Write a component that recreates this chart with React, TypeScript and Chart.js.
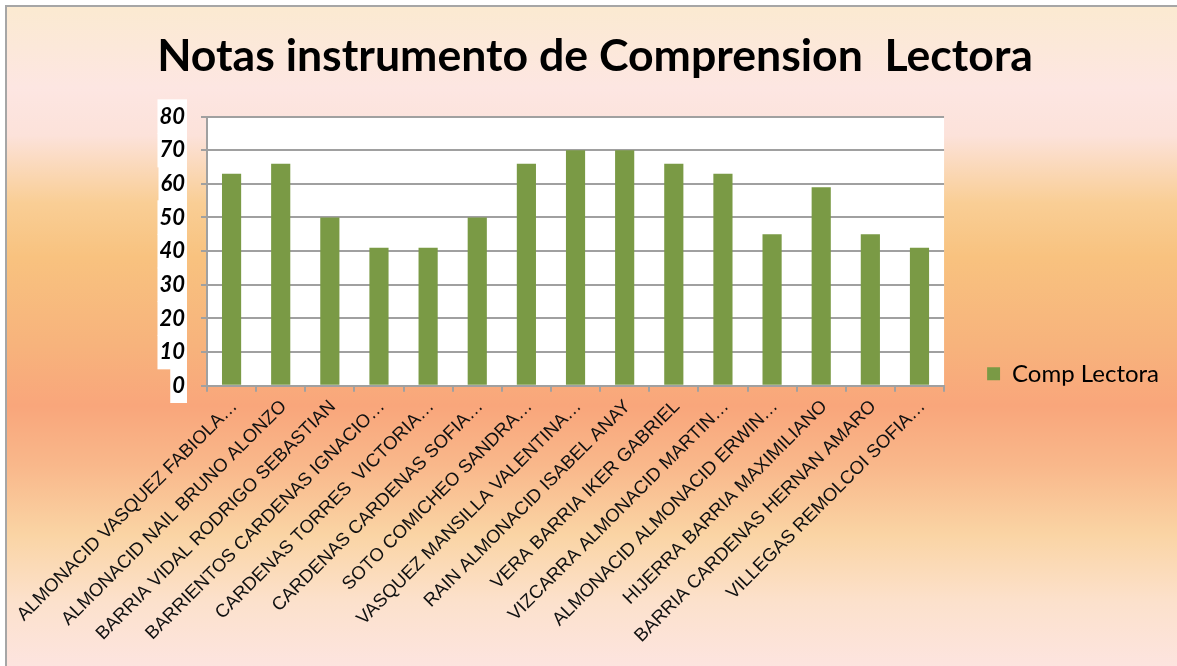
import React, { useEffect, useRef } from "react";
import { Chart, registerables } from "chart.js";

Chart.register(...registerables);

const TITLE = "Notas instrumento de Comprension  Lectora";
const SERIES_NAME = "Comp Lectora";
const CATEGORIES = [
  "ALMONACID VASQUEZ FABIOLA…",
  "ALMONACID NAIL BRUNO ALONZO",
  "BARRIA VIDAL RODRIGO SEBASTIAN",
  "BARRIENTOS CARDENAS IGNACIO…",
  "CARDENAS TORRES  VICTORIA…",
  "CARDENAS CARDENAS SOFIA…",
  "SOTO COMICHEO SANDRA…",
  "VASQUEZ MANSILLA VALENTINA…",
  "RAIN ALMONACID ISABEL ANAY",
  "VERA BARRIA IKER GABRIEL",
  "VIZCARRA ALMONACID MARTIN…",
  "ALMONACID ALMONACID ERWIN…",
  "HIJERRA BARRIA MAXIMILIANO",
  "BARRIA CARDENAS HERNAN AMARO",
  "VILLEGAS REMOLCOI SOFIA…",
];
const VALUES = [63, 66, 50, 41, 41, 50, 66, 70, 70, 66, 63, 45, 59, 45, 41];
const Y_MIN = 0;
const Y_MAX = 80;
const Y_STEP = 10;

const plotBg = {
  id: "plotBg",
  beforeDraw(chart: any) {
    const { ctx, chartArea } = chart;
    ctx.save();
    ctx.fillStyle = "#ffffff";
    ctx.fillRect(chartArea.left, chartArea.top, chartArea.right - chartArea.left, chartArea.bottom - chartArea.top);
    ctx.restore();
  },
};

export default function App() {
  const ref = useRef<HTMLCanvasElement | null>(null);
  useEffect(() => {
    if (!ref.current) return;
    const chart = new Chart(ref.current, {
      type: "bar",
      data: {
        labels: CATEGORIES,
        datasets: [
          {
            label: SERIES_NAME,
            data: VALUES,
            backgroundColor: "#7A9A45",
            borderWidth: 0,
            barPercentage: 0.78,
            categoryPercentage: 0.5,
          },
        ],
      },
      plugins: [plotBg],
      options: {
        animation: false,
        responsive: true,
        maintainAspectRatio: false,
        layout: { padding: { left: 14, right: 24, top: 0, bottom: 32 } },
        plugins: {
          title: {
            display: true,
            text: TITLE,
            color: "#000000",
            font: { family: "Lato", size: 44.6, weight: "bold" },
            padding: { top: 23, bottom: 33 },
          },
          legend: {
            position: "right",
            align: "end",
            fullSize: false,
            labels: {
              color: "#000000",
              font: { family: "Lato", size: 24 },
              boxWidth: 13,
              boxHeight: 13,
              padding: 0,
            },
          },
          tooltip: { enabled: false },
        },
        scales: {
          x: {
            afterFit(s: any) {
              s.paddingLeft = 0;
              s.paddingRight = 0;
            },
            grid: {
              display: true,
              drawOnChartArea: false,
              drawTicks: true,
              tickLength: 6,
              color: "#A0A0A0",
              lineWidth: 2,
            },
            border: { display: true, color: "#A0A0A0", width: 2 },
            ticks: {
              autoSkip: false,
              maxRotation: 45,
              minRotation: 45,
              color: "#111111",
              font: { family: "Liberation Sans", size: 18.5 },
              labelOffset: 3,
              padding: 4,
            },
          },
          y: {
            min: Y_MIN,
            max: Y_MAX,
            afterFit(s: any) {
              s.width = 186;
            },
            grid: {
              color: "#A0A0A0",
              lineWidth: 2,
              drawTicks: true,
              tickLength: 6,
            },
            border: { display: true, color: "#A0A0A0", width: 2 },
            ticks: {
              stepSize: Y_STEP,
              color: "#000000",
              font: { family: "Lato", size: 22, weight: "bold", style: "italic" },
              padding: 16,
              showLabelBackdrop: true,
              backdropColor: "#ffffff",
              backdropPadding: { top: 4, bottom: 4, left: 2, right: 2 },
            } as any,
          },
          gap: {
            type: "linear",
            position: "right",
            display: true,
            afterFit(s: any) {
              s.width = 43;
            },
            grid: { display: false },
            border: { display: false },
            ticks: { display: false },
          },
        },
      } as any,
    });
    return () => chart.destroy();
  }, []);

  return (
    <div
      style={{
        position: "fixed",
        left: 5,
        top: 5,
        width: 1190,
        height: 680,
        border: "2px solid #A6A6A6",
        boxSizing: "border-box",
        background:
          "linear-gradient(to bottom, #FBEAD1 0%, #FDE6E2 12%, #FCE2DA 19%, #F9CE95 29%, #F8C27F 37%, #F7B37C 50%, #F9A67B 59%, #F9B88B 68%, #FAD4A4 78%, #FCE1CC 88%, #FDE5E4 100%)",
      }}
    >
      <div style={{ position: "absolute", left: 0, top: 0, width: 1186, height: 676 }}>
        <canvas ref={ref} />
      </div>
    </div>
  );
}
